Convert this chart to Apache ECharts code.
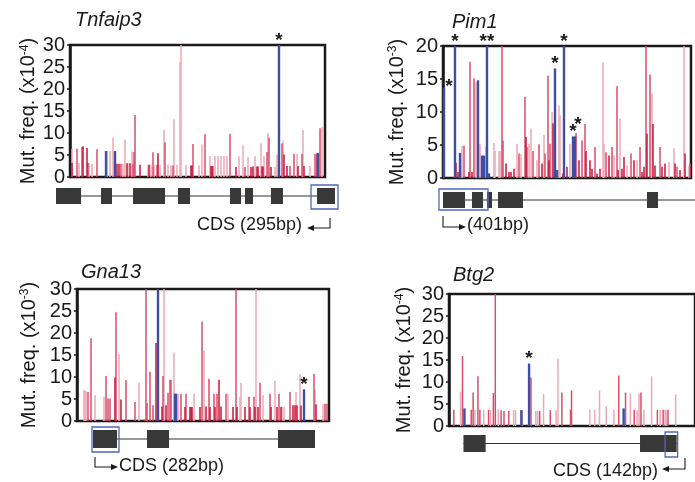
<!DOCTYPE html>
<html><head><meta charset="utf-8">
<script src="https://cdn.jsdelivr.net/npm/echarts@6/dist/echarts.min.js"></script>
<style>html,body{margin:0;padding:0;background:#fff}#c{width:695px;height:482px}</style>
</head><body><div id="c"></div>
<script>
// ---------- DATA ----------
// bars: [position, mutation frequency, colour class]  (l = light pink, m = mid red, d = dark red, b = blue)
const tnfBars = [
[2,6.4,'l'],[2,3.2,'d'],[7,6.4,'m'],[9,3.2,'l'],[12,6.8,'m'],[13,7.0,'d'],[17,6.6,'d'],[18,3.2,'m'],[19,3.2,'l'],[22,3.0,'l'],[27,6.3,'m'],[36,5.9,'b'],[37,5.9,'l'],[40,5.9,'l'],[43,8.9,'l'],[45,5.9,'b'],[47,3.0,'d'],[49,3.0,'d'],[51,3.0,'m'],[53,3.0,'l'],[55,8.5,'l'],[57,3.1,'d'],[58,3.1,'l'],[60,3.1,'d'],[62,5.8,'l'],[63,3.0,'m'],[64,5.7,'m'],[65,14.1,'m'],[70,2.8,'d'],[78,2.8,'l'],[79,2.8,'d'],[81,2.8,'l'],[83,5.6,'m'],[84,2.8,'l'],[87,2.8,'m'],[88,5.4,'d'],[90,2.8,'l'],[94,10.7,'l'],[95,7.9,'m'],[98,2.8,'l'],[101,2.6,'l'],[103,2.6,'m'],[104,13.1,'l'],[107,2.8,'l'],[110,26.1,'l'],[111,30,'l'],[116,2.8,'l'],[121,2.6,'d'],[122,2.6,'d'],[123,7.5,'m'],[129,2.6,'l'],[132,7.4,'l'],[135,9.7,'m'],[140,4.8,'l'],[141,2.5,'d'],[142,2.5,'d'],[143,2.5,'m'],[145,4.8,'l'],[148,4.8,'l'],[151,4.8,'l'],[154,4.8,'l'],[157,4.8,'l'],[160,9.8,'m'],[166,2.3,'d'],[169,4.7,'l'],[173,7.2,'l'],[175,2.3,'m'],[178,4.5,'l'],[181,2.3,'d'],[183,2.4,'d'],[185,4.7,'l'],[187,2.4,'d'],[188,2.4,'d'],[191,7.6,'l'],[192,2.4,'d'],[193,2.4,'d'],[194,4.7,'l'],[197,5.7,'m'],[198,10.0,'l'],[199,8.9,'m'],[201,2.3,'d'],[205,2.3,'l'],[207,5.1,'l'],[209,30,'b'],[212,7.6,'m'],[213,8.3,'l'],[214,5.1,'d'],[217,2.5,'d'],[220,2.5,'m'],[224,5.3,'m'],[227,5.3,'l'],[228,2.5,'d'],[232,5.3,'m'],[233,10.7,'l'],[234,2.5,'d'],[240,2.5,'l'],[245,5.3,'m'],[247,5.3,'d'],[248,5.5,'b'],[250,11.1,'m'],[252,11.3,'l']
];
const pimBars = [
[1,13.7,'b'],[12,20,'b'],[13,2.3,'d'],[15,0.9,'d'],[17,3.8,'b'],[18,1.9,'l'],[19,4.9,'l'],[21,4.9,'m'],[26,0.9,'d'],[27,17.6,'m'],[29,0.9,'d'],[31,15.1,'m'],[33,14.5,'l'],[35,14.8,'b'],[37,5.2,'l'],[39,3.4,'b'],[41,3.4,'b'],[43,4.7,'l'],[44,20,'b'],[46,0.7,'b'],[51,5.3,'l'],[52,4.1,'l'],[56,4.1,'l'],[57,4.1,'l'],[59,20,'m'],[60,5.7,'m'],[63,2.2,'d'],[66,0.9,'d'],[68,0.9,'d'],[71,1.4,'d'],[74,5.2,'l'],[76,3.7,'m'],[78,3.6,'l'],[82,12.3,'m'],[83,6.2,'d'],[84,4.7,'m'],[86,5.2,'l'],[88,7.5,'l'],[90,4.1,'m'],[94,2.7,'l'],[96,5.1,'m'],[99,2.2,'d'],[101,6.5,'l'],[102,3.7,'m'],[105,15.5,'m'],[106,2.7,'d'],[107,5.2,'m'],[109,10.0,'l'],[110,8.3,'d'],[112,16.6,'b'],[114,1.2,'b'],[116,11.0,'l'],[117,9.5,'l'],[120,0.7,'d'],[121,20,'b'],[124,1.7,'d'],[127,5.2,'l'],[130,6.3,'b'],[132,6.3,'b'],[133,6.8,'m'],[136,2.7,'d'],[139,5.7,'m'],[142,8.2,'m'],[143,4.1,'d'],[147,2.7,'d'],[149,1.4,'d'],[152,4.7,'m'],[154,0.7,'d'],[157,1.4,'d'],[160,17.5,'l'],[161,5.2,'l'],[163,3.9,'m'],[166,3.4,'d'],[169,4.7,'m'],[171,3.4,'l'],[174,13.9,'m'],[175,1.2,'d'],[177,9.0,'l'],[179,1.4,'d'],[181,3.2,'d'],[184,1.9,'l'],[188,3.7,'m'],[191,2.7,'d'],[194,2.7,'l'],[197,4.7,'m'],[199,0.9,'d'],[201,1.7,'d'],[203,20,'m'],[204,6.7,'d'],[207,15.7,'m'],[209,12.8,'l'],[210,8.2,'d'],[212,1.9,'d'],[217,4.7,'m'],[219,1.7,'d'],[222,2.2,'d'],[226,2.4,'l'],[231,4.5,'l'],[232,2.2,'d'],[234,1.7,'m'],[237,1.2,'d'],[241,20,'l'],[242,3.7,'d'],[246,1.9,'l'],[247,2.2,'m']
];
const gnaBars = [
[7,7.0,'l'],[8,6.9,'l'],[9,6.8,'l'],[11,6.6,'m'],[14,18.8,'m'],[18,5.9,'l'],[27,5.5,'l'],[29,10.2,'m'],[31,5.1,'m'],[33,5.1,'m'],[38,9.9,'d'],[39,24.7,'m'],[42,15.2,'l'],[44,4.9,'d'],[49,9.3,'m'],[58,4.3,'m'],[62,8.7,'l'],[67,0.3,'d'],[69,30,'m'],[70,4.1,'m'],[73,11.2,'m'],[76,3.6,'m'],[79,17.7,'d'],[81,30,'b'],[85,3.3,'d'],[86,10.2,'m'],[87,30,'l'],[89,3.6,'d'],[91,6.4,'m'],[93,9.4,'m'],[94,9.3,'m'],[97,15.5,'l'],[98,6.2,'b'],[99,6.2,'b'],[101,6.2,'l'],[104,6.2,'m'],[108,3.2,'d'],[109,6.2,'m'],[113,3.2,'d'],[114,3.2,'d'],[115,3.2,'d'],[117,6.2,'l'],[123,3.2,'d'],[125,22.6,'m'],[127,16.0,'l'],[129,3.3,'d'],[132,9.6,'m'],[133,3.2,'d'],[137,6.2,'m'],[138,3.2,'d'],[140,6.2,'m'],[142,9.4,'d'],[144,3.3,'d'],[149,6.2,'m'],[151,6.2,'l'],[156,3.2,'d'],[159,30,'m'],[160,3.2,'d'],[163,5.5,'l'],[164,8.7,'l'],[168,3.2,'d'],[172,5.5,'m'],[173,3.2,'d'],[177,5.5,'m'],[178,3.2,'d'],[179,30,'l'],[181,3.2,'d'],[183,8.7,'m'],[186,5.9,'l'],[193,6.2,'m'],[194,3.2,'d'],[198,9.1,'l'],[200,3.2,'d'],[202,6.2,'m'],[204,3.2,'d'],[205,3.2,'l'],[207,3.2,'l'],[213,6.6,'m'],[216,3.6,'d'],[218,3.6,'d'],[219,6.6,'l'],[220,3.6,'d'],[223,10.6,'l'],[224,3.5,'d'],[227,7.2,'b'],[237,10.7,'m'],[238,7.2,'l'],[239,3.8,'d'],[246,3.8,'l'],[248,3.9,'m'],[250,3.9,'m']
];
const btgBars = [
[5,3.7,'m'],[12,7.8,'l'],[14,15.9,'m'],[16,4.0,'b'],[23,3.7,'m'],[25,7.6,'m'],[27,3.7,'l'],[30,11.3,'m'],[32,3.7,'m'],[36,3.7,'l'],[41,3.7,'m'],[43,3.7,'l'],[46,7.5,'m'],[48,30,'m'],[51,3.7,'l'],[54,3.6,'m'],[57,3.4,'m'],[62,3.4,'m'],[67,3.6,'l'],[69,3.6,'l'],[75,3.6,'b'],[76,3.6,'l'],[83,14.2,'b'],[85,11.0,'m'],[90,3.4,'l'],[92,3.4,'l'],[94,3.4,'m'],[98,7.2,'l'],[105,3.6,'m'],[111,3.6,'l'],[113,15.3,'l'],[117,7.6,'m'],[126,3.7,'m'],[127,8.1,'m'],[146,3.7,'l'],[151,3.7,'l'],[156,8.1,'l'],[163,4.5,'l'],[171,3.7,'l'],[176,11.5,'m'],[181,4.0,'b'],[183,7.6,'m'],[188,7.4,'l'],[192,3.7,'m'],[195,3.7,'l'],[197,7.4,'l'],[199,7.6,'m'],[202,3.7,'l'],[210,11.3,'l'],[216,3.7,'m'],[219,3.7,'l'],[222,3.7,'m'],[224,3.7,'l'],[225,3.7,'l'],[227,3.7,'m'],[235,7.2,'l']
];
// starred positions and their marks
const tnfStars = [209], tnfStarText = ['*'];
const pimStars = [1,12,44,112,121,130,132], pimStarText = ['*','*','**','*','*','*','*'];
const gnaStars = [227], gnaStarText = ['*'];
const btgStars = [83], btgStarText = ['*'];
// gene models: exons [start,end], intron span, CDS box
const tnfExons = [[-14,11],[31,42],[63,95],[108,120],[160,171],[175,183],[201,213],[247,265]], tnfIntron = [-14,265], tnfCds = [241,268];
const pimExons = [[0,22],[29,40],[44,49],[55,80],[204,215]], pimIntron = [0,258], pimCds = [-4,45];
const gnaExons = [[16,40],[70,92],[201,238]], gnaIntron = [16,238], gnaCds = [15,42];
const btgExons = [[15,38],[198,236]], btgIntron = [15,236], btgCds = [224,237];
// labels
const titles = ['Tnfaip3','Pim1','Gna13','Btg2'];
const exps = ['-4','-3','-3','-4'];
const yMaxes = [30,20,30,30];
const cdsTexts = ['CDS (295bp)','(401bp)','CDS (282bp)','CDS (142bp)'];

// ---------- STYLE / LAYOUT ----------
const FONT = '"Liberation Sans", Arial, Helvetica, sans-serif';
const RANK = {l:0,m:1,d:2,b:3};
const PAL = ['#eda9b6','#d84d6a','#c4143b','#3d4ea6'];
const INK = '#1a1a1a';

const panels = [
 {bars:tnfBars, stars:tnfStars, starText:tnfStarText, exons:tnfExons, intron:tnfIntron, cds:tnfCds,
  grid:{left:70,top:45,width:255,height:132}, xmax:255, title:[75,10], nameGap:31, gene:{off:11,h:16,bo:8,bh:24}, starOff:{}},
 {bars:pimBars, stars:pimStars, starText:pimStarText, exons:pimExons, intron:pimIntron, cds:pimCds,
  grid:{left:443,top:46,width:248,height:132}, xmax:248, title:[452,12], nameGap:36, gene:{off:14,h:16,bo:11,bh:21}, starOff:{1:[5,4],132:[3,-7]}},
 {bars:gnaBars, stars:gnaStars, starText:gnaStarText, exons:gnaExons, intron:gnaIntron, cds:gnaCds,
  grid:{left:77,top:289,width:252,height:132}, xmax:252, title:[81,262], nameGap:38, gene:{off:9,h:18,bo:6,bh:25}, starOff:{}},
 {bars:btgBars, stars:btgStars, starText:btgStarText, exons:btgExons, intron:btgIntron, cds:btgCds,
  grid:{left:449,top:294,width:255,height:132}, xmax:255, title:[453,265], nameGap:35, gene:{off:9,h:17,bo:6,bh:25}, starOff:{}}
];

function barRender(params, api){
  const x = api.value(0), v = api.value(1), c = api.value(2);
  const p0 = api.coord([x,0]), p1 = api.coord([x,v]);
  const w = c === 3 ? 2.4 : 1.5;
  return {type:'rect', shape:{x:p0[0]-w/2, y:p1[1], width:w, height:p0[1]-p1[1]}, style:{fill:PAL[c]}};
}
function geneRenderer(g){
  return function(params, api){
    const s = api.value(0), e = api.value(1), k = api.value(2);
    const a = api.coord([s,0]), b = api.coord([e,0]);
    const base = a[1];
    if (k === 0) return {type:'line', shape:{x1:a[0], y1:base+g.off+g.h/2, x2:b[0], y2:base+g.off+g.h/2}, style:{stroke:'#333', lineWidth:1}};
    if (k === 1) return {type:'rect', shape:{x:a[0], y:base+g.off, width:b[0]-a[0], height:g.h}, style:{fill:'#383838'}};
    return {type:'rect', shape:{x:a[0], y:base+g.bo, width:b[0]-a[0], height:g.bh}, style:{fill:'none', stroke:'#5266b8', lineWidth:1.3}};
  };
}
function starRenderer(p){
  return function(params, api){
    const x = api.value(0), v = api.value(1);
    const pt = api.coord([x,v]);
    const off = p.starOff[x] || [0,0];
    return {type:'text', x:pt[0]+off[0], y:pt[1]+off[1]+5,
      style:{text:p.starText[params.dataIndex], fontFamily:FONT, fontSize:19, fontWeight:'bold', fill:INK, textAlign:'center', textVerticalAlign:'bottom'}};
  };
}

const option = {animation:false, backgroundColor:'#fff', title:[], grid:[], xAxis:[], yAxis:[], series:[], graphic:[]};
panels.forEach((p,i)=>{
  option.title.push({text:titles[i], left:p.title[0], top:p.title[1], padding:0,
    textStyle:{fontFamily:FONT, fontSize:20, fontStyle:'italic', fontWeight:'normal', color:INK}});
  option.grid.push(Object.assign({show:true, borderColor:INK, borderWidth:2.5, backgroundColor:'transparent'}, p.grid));
  option.xAxis.push({type:'value', gridIndex:i, min:0, max:p.xmax, show:false, splitLine:{show:false}});
  option.yAxis.push({type:'value', gridIndex:i, min:0, max:yMaxes[i], interval:5,
    name:'Mut. freq. (x10{sup|' + exps[i] + '})', nameLocation:'middle', nameGap:p.nameGap,
    nameTextStyle:{fontFamily:FONT, fontSize:20, color:INK, rich:{sup:{fontFamily:FONT, fontSize:12, color:INK, verticalAlign:'top'}}},
    axisLine:{show:true, lineStyle:{color:INK, width:2.5}},
    axisTick:{show:true, length:3, inside:false, lineStyle:{color:INK, width:1.5}},
    axisLabel:{fontFamily:FONT, fontSize:20, color:INK, margin:5},
    splitLine:{show:false}});
  const bd = p.bars.map(b=>[b[0], b[1], RANK[b[2]]]).sort((a,b)=>a[2]-b[2]);
  option.series.push({type:'custom', xAxisIndex:i, yAxisIndex:i, data:bd, encode:{x:0,y:1}, renderItem:barRender, clip:false, silent:true, z:3});
  const gd = [[p.intron[0], p.intron[1], 0]].concat(p.exons.map(e=>[e[0],e[1],1]), [[p.cds[0], p.cds[1], 2]]);
  option.series.push({type:'custom', xAxisIndex:i, yAxisIndex:i, data:gd, encode:{x:[0,1]}, renderItem:geneRenderer(p.gene), clip:false, silent:true, z:3});
  const sd = p.stars.map(x=>[x, p.bars.filter(b=>b[0]===x).reduce((m,b)=>Math.max(m,b[1]),0)]);
  option.series.push({type:'custom', xAxisIndex:i, yAxisIndex:i, data:sd, encode:{x:0,y:1}, renderItem:starRenderer(p), clip:false, silent:true, z:5});
});

// CDS annotations with bent arrows
const txt = (t,x,y)=>({type:'text', x:x, y:y, style:{text:t, fontFamily:FONT, fontSize:18, fill:INK, textVerticalAlign:'middle'}});
const pl = pts=>({type:'polyline', shape:{points:pts}, style:{stroke:INK, lineWidth:1.1, fill:null}});
const head = pts=>({type:'polygon', shape:{points:pts}, style:{fill:INK}});
option.graphic = [
  txt(cdsTexts[0],197,225), pl([[330,218],[330,228],[312,228]]), head([[307,228],[314,225],[314,231]]),
  pl([[443,216],[443,227],[461,227]]), head([[466,227],[459,224],[459,230]]), txt(cdsTexts[1],467,225),
  pl([[95,457],[95,467],[113,467]]), head([[118,467],[111,464],[111,470]]), txt(cdsTexts[2],119,466),
  txt(cdsTexts[3],553,471), pl([[685,458],[685,469],[667,469]]), head([[662,469],[669,466],[669,472]])
];

const chart = echarts.init(document.getElementById('c'), null, {renderer:'canvas', width:695, height:482});
chart.setOption(option);
</script>
</body></html>
